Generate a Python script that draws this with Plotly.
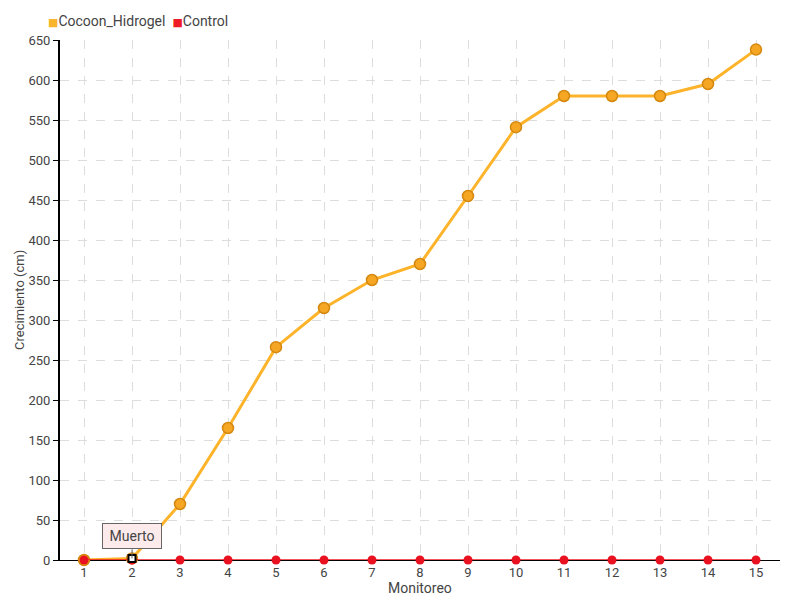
import plotly.graph_objects as go

monitoreo = list(range(1, 16))
cocoon_hidrogel = [0, 2, 70, 165, 266, 315, 350, 370, 455, 541, 580, 580, 580, 595, 638]
control = [0] * 15
y_ticks = list(range(0, 651, 50))

FONT = "Roboto, DejaVu Sans, sans-serif"
ORANGE = "#FDB32A"
RED = "#EE1C25"
TXT = "#444444"

fig = go.Figure()
fig.add_trace(go.Scatter(
    x=monitoreo, y=cocoon_hidrogel, name="Cocoon_Hidrogel", mode="lines+markers",
    line=dict(color=ORANGE, width=3), showlegend=False, cliponaxis=False,
    marker=dict(size=11, color="#F5A623", line=dict(color="#D4880F", width=1.5)),
))
fig.add_trace(go.Scatter(
    x=monitoreo, y=control, name="Control", mode="lines+markers",
    line=dict(color=RED, width=1.5), showlegend=False, cliponaxis=False,
    marker=dict(size=9, color="#E8111F", line=dict(width=0)),
))
# highlighted point
fig.add_trace(go.Scatter(
    x=[monitoreo[1]], y=[cocoon_hidrogel[1]], mode="markers", showlegend=False, cliponaxis=False,
    marker=dict(size=7, symbol="square", color="white", line=dict(color="black", width=2)),
    hoverinfo="skip",
))

# callout
fig.add_annotation(
    x=monitoreo[1], y=cocoon_hidrogel[1], text="Muerto", showarrow=True,
    arrowhead=0, arrowwidth=1, arrowcolor="#666666", ax=0, ay=-9,
    bgcolor="#FDEAEA", bordercolor="#666666", borderwidth=1, borderpad=3,
    width=52, height=18,
    font=dict(family=FONT, size=14, color=TXT), yanchor="bottom",
)

# legend (small squares)
legend_text = ("<span style='color:#F9B52C;font-size:11px'>■</span>Cocoon_Hidrogel  "
               "<span style='color:#EE1C25;font-size:11px'>■</span>Control")
fig.add_annotation(
    xref="paper", yref="paper", x=-0.02, y=1, yshift=19, xanchor="left", yanchor="middle",
    text=legend_text, showarrow=False, font=dict(family=FONT, size=14, color=TXT),
)

# axis titles
fig.add_annotation(
    xref="paper", yref="paper", x=0.5, y=0, yshift=-18, xanchor="center", yanchor="top",
    text="Monitoreo", showarrow=False, font=dict(family=FONT, size=14, color=TXT),
)
fig.add_annotation(
    xref="paper", yref="paper", x=-0.057, y=0.5, xanchor="center", yanchor="middle",
    textangle=-90, text="Crecimiento (cm)", showarrow=False,
    font=dict(family=FONT, size=13, color=TXT),
)

fig.update_layout(
    width=792, height=592,
    margin=dict(l=52, r=20, t=32, b=40, autoexpand=False),
    plot_bgcolor="white", paper_bgcolor="white",
    font=dict(family=FONT, size=13, color=TXT),
    showlegend=False,
)
fig.update_xaxes(
    range=[0.5, 15.5], tickmode="array", tickvals=monitoreo, ticktext=[str(v) for v in monitoreo],
    showgrid=True, gridcolor="#DDDDDD", griddash="dash", gridwidth=1,
    showline=True, linecolor="black", linewidth=1, zeroline=False,
    ticks="", automargin=False, layer="below traces",
    tickfont=dict(size=13),
)
fig.update_yaxes(
    range=[0, 650], tickmode="array", tickvals=y_ticks,
    showgrid=True, gridcolor="#DDDDDD", griddash="dash", gridwidth=1,
    showline=True, linecolor="black", linewidth=2, zeroline=False,
    ticks="outside", ticklen=5, tickcolor="black", automargin=False, layer="below traces",
    tickfont=dict(size=13),
)

fig.write_html("out.html")
